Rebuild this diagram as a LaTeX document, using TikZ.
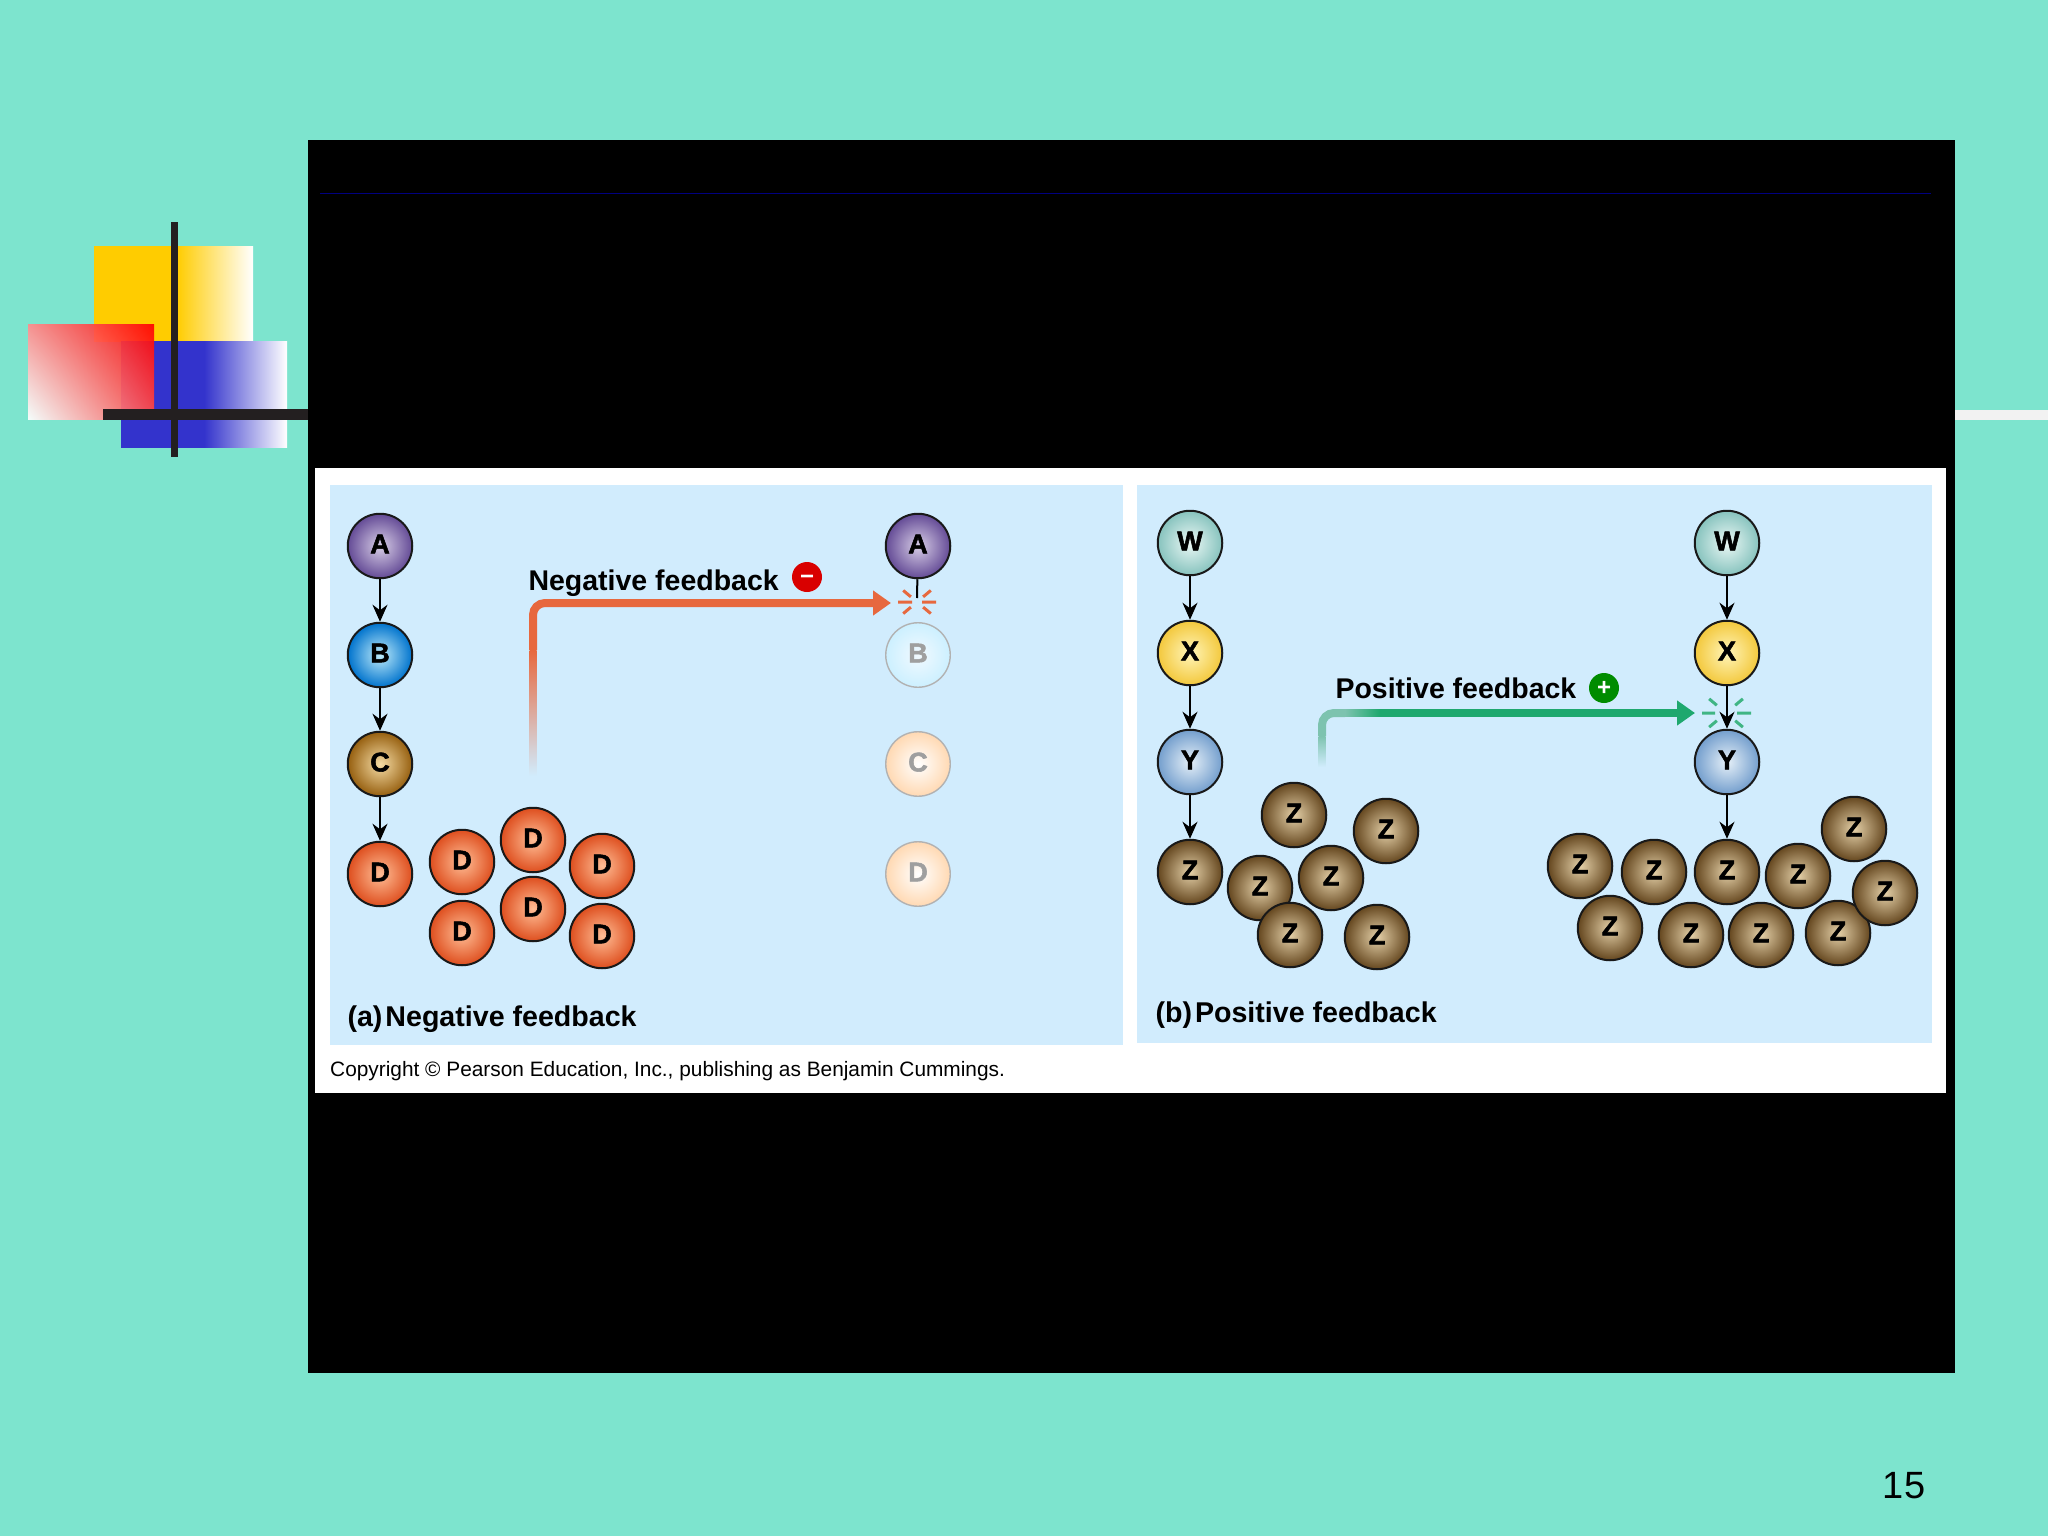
\documentclass[tikz,border=0pt]{standalone}
\usepackage{fontspec}
\setmainfont{Liberation Sans}
\newfontfamily\cellfont[BoldFeatures={FakeBold=2}]{Liberation Sans}
\usetikzlibrary{arrows.meta,calc,shadings}
\definecolor{slidebg}{RGB}{125,228,206}
\definecolor{panelblue}{RGB}{209,236,253}
\definecolor{barcol}{RGB}{35,31,32}
\definecolor{negcol}{RGB}{231,104,62}
\definecolor{poscol}{RGB}{30,168,110}
\definecolor{poslight}{RGB}{125,195,175}
\definecolor{decoyellow}{RGB}{255,204,0}
\definecolor{decoblue}{RGB}{51,51,204}
\definecolor{inA}{RGB}{215,205,230}\definecolor{outA}{RGB}{100,75,150}
\definecolor{inB}{RGB}{190,235,250}\definecolor{outB}{RGB}{0,115,205}
\definecolor{inC}{RGB}{245,220,165}\definecolor{outC}{RGB}{150,95,15}
\definecolor{inD}{RGB}{255,190,150}\definecolor{outD}{RGB}{222,78,30}
\definecolor{inW}{RGB}{235,248,245}\definecolor{outW}{RGB}{135,195,190}
\definecolor{inX}{RGB}{255,245,185}\definecolor{outX}{RGB}{243,200,60}
\definecolor{inY}{RGB}{230,240,248}\definecolor{outY}{RGB}{115,158,205}
\definecolor{inZ}{RGB}{228,208,168}\definecolor{outZ}{RGB}{100,70,30}
\pgfdeclarehorizontalshading{yellowside}{100bp}{color(0bp)=(decoyellow); color(51bp)=(decoyellow); color(75bp)=(white); color(100bp)=(white)}
\pgfdeclarehorizontalshading{blueside}{100bp}{color(0bp)=(decoblue); color(50bp)=(decoblue); color(75bp)=(white); color(100bp)=(white)}
\begin{document}
\begin{tikzpicture}[
    x=1pt, y=-1pt,
    cell/.style={circle, draw=black!90, line width=2pt, minimum size=64.5pt, inner sep=0pt, text=black, text depth=4pt, font=\fontsize{27}{27}\cellfont\bfseries},
    cellA/.style={cell, inner color=inA, outer color=outA},
    cellB/.style={cell, inner color=inB, outer color=outB},
    cellC/.style={cell, inner color=inC, outer color=outC},
    cellD/.style={cell, inner color=inD, outer color=outD},
    cellW/.style={cell, inner color=inW, outer color=outW},
    cellX/.style={cell, inner color=inX, outer color=outX},
    cellY/.style={cell, inner color=inY, outer color=outY},
    cellZ/.style={cell, inner color=inZ, outer color=outZ},
    ghost/.style={cell, draw=gray!60, line width=1.4pt, text=gray!75},
    ghostB/.style={ghost, inner color=white!70!panelblue, outer color=blue!30!cyan!20!white},
    ghostC/.style={ghost, inner color=white, outer color=orange!30!white},
    flow/.style={-{Stealth[length=17pt,width=15pt]}, line width=2pt, black},
    stub/.style={line width=2pt, black},
    fbneg/.style={-{Triangle[length=18pt,width=24pt]}, line width=8pt, negcol, rounded corners=12pt},
    fbpos/.style={-{Triangle[length=18pt,width=24pt]}, line width=8pt, poscol},
    fbposlight/.style={line width=8pt, poslight, rounded corners=12pt},
    spark/.style={line width=3pt},
    sign/.style={circle, minimum size=30pt, inner sep=0pt, text=white, text height=15pt, text depth=0pt, font=\fontsize{24}{24}\selectfont\bfseries},
    title/.style={anchor=west, text=black, font=\fontsize{28.5}{30}\selectfont\bfseries}
]

% Slide background
\fill[slidebg] (0,0) rectangle (2048,1536);

% Corner decoration
\shade[shading=yellowside] (94,246) rectangle (253,341);
\shade[shading=blueside] (121,341) rectangle (287,447);
\shade[lower left=white, upper right=red, upper left=red!45!white, lower right=red!70!white, opacity=0.92] (28,324) rectangle (154,419);
\fill[barcol] (171,222) rectangle (178,457);
\fill[barcol] (103,409) rectangle (308,420);
\fill[white!90!gray] (1955,410) rectangle (2048,420);

% Black frame and picture panels
\fill[black] (308,140) rectangle (1955,1373);
\draw[blue!50!black, line width=1pt] (320,193) -- (1931,193);
\fill[white] (315,468) rectangle (1946,1093);
\fill[panelblue] (330,485) rectangle (1123,1045);
\fill[panelblue] (1137,485) rectangle (1932,1043);

% Negative side, first chain
\node[cellA] (a1) at (380,546) {A};
\node[cellB] (b1) at (380,655) {B};
\node[cellC] (c1) at (380,764) {C};
\node[cellD] (d1) at (380,874) {D};
\draw[flow] (a1) -- (b1);
\draw[flow] (b1) -- (c1);
\draw[flow] (c1) -- (d1);

% D pile
\node[cellD] (d2) at (462,862) {D};
\node[cellD] (d3) at (533,840) {D};
\node[cellD] (d4) at (602,866) {D};
\node[cellD] (d5) at (533,909) {D};
\node[cellD] (d6) at (462,933) {D};
\node[cellD] (d7) at (602,936) {D};

% Negative side, blocked chain
\node[cellA] (a2) at (918,546) {A};
\node[ghostB] (b2) at (918,655) {B};
\node[ghostC] (c2) at (918,764) {C};
\node[ghostC] (d8) at (918,874) {D};
\coordinate (cutneg) at (917,602);
\coordinate (stubend) at (917,598);
\draw[stub] (a2) -- (stubend);
\draw[spark, negcol] (cutneg) ++(0:5) -- ++(0:14) (cutneg) ++(180:5) -- ++(180:14)
    (cutneg) ++(40:8) -- ++(40:10) (cutneg) ++(140:8) -- ++(140:10)
    (cutneg) ++(220:8) -- ++(220:10) (cutneg) ++(320:8) -- ++(320:10);

% Negative feedback arrow
\coordinate (negfoot) at (533,776);
\coordinate (negknee) at (533,650);
\coordinate (negtip) at (891,603);
\shade[bottom color=panelblue, top color=negcol] ($(negfoot)+(-3.5,0)$) rectangle ($(negknee)+(3.5,0)$);
\draw[fbneg] (negknee) |- (negtip);
\node[title] (negtext) at (525,583) {Negative feedback};
\node[sign, fill=red!85!black] (minus) at (807,577) {−};

% Positive side, first chain
\node[cellW] (w1) at (1190,543) {W};
\node[cellX] (x1) at (1190,653) {X};
\node[cellY] (y1) at (1190,762) {Y};
\node[cellZ] (z1) at (1190,872) {Z};
\draw[flow] (w1) -- (x1);
\draw[flow] (x1) -- (y1);
\draw[flow] (y1) -- (z1);

% Small Z pile
\node[cellZ] (z2) at (1294,815) {Z};
\node[cellZ] (z3) at (1386,831) {Z};
\node[cellZ] (z4) at (1260,888) {Z};
\node[cellZ] (z5) at (1331,878) {Z};
\node[cellZ] (z6) at (1290,935) {Z};
\node[cellZ] (z7) at (1377,937) {Z};

% Positive side, boosted chain
\node[cellW] (w2) at (1727,543) {W};
\node[cellX] (x2) at (1727,653) {X};
\node[cellY] (y2) at (1727,762) {Y};
\node[cellZ] (z8) at (1727,872) {Z};
\coordinate (cutpos) at (1726,713);
\draw[flow] (w2) -- (x2);
\draw[spark, poscol!85!white] (cutpos) ++(0:11) -- ++(0:14) (cutpos) ++(180:11) -- ++(180:13)
    (cutpos) ++(40:12) -- ++(40:10) (cutpos) ++(140:12) -- ++(140:10)
    (cutpos) ++(220:12) -- ++(220:10) (cutpos) ++(320:12) -- ++(320:10);
\draw[flow] (x2) -- (y2);
\draw[flow] (y2) -- (z8);

% Large Z pile
\node[cellZ] (z9) at (1580,866) {Z};
\node[cellZ] (z10) at (1654,872) {Z};
\node[cellZ] (z11) at (1798,876) {Z};
\node[cellZ] (z12) at (1854,829) {Z};
\node[cellZ] (z13) at (1610,928) {Z};
\node[cellZ] (z14) at (1691,935) {Z};
\node[cellZ] (z15) at (1761,935) {Z};
\node[cellZ] (z16) at (1838,933) {Z};
\node[cellZ] (z17) at (1885,893) {Z};

% Positive feedback arrow
\coordinate (posfoot) at (1322,767);
\coordinate (posknee) at (1322,736);
\coordinate (posbend) at (1345,713);
\coordinate (posmid) at (1380,713);
\coordinate (postip) at (1695,713);
\shade[bottom color=panelblue, top color=poslight] ($(posfoot)+(-3.5,0)$) rectangle ($(posknee)+(3.5,0)$);
\draw[fbposlight] (posknee) |- (posbend);
\shade[left color=poslight, right color=poscol] ($(posbend)+(0,-3.5)$) rectangle ($(posmid)+(0,3.5)$);
\draw[fbpos] (posmid) -- (postip);
\node[title] (postext) at (1332,688) {Positive feedback};
\node[sign, fill=green!55!black] (plus) at (1604,688) {+};

% Captions
\node[title, font=\fontsize{28.6}{30}\selectfont\bfseries] (capa) at (344,1019) {(a)\hspace{3pt}Negative feedback};
\node[title, font=\fontsize{28.6}{30}\selectfont\bfseries] (capb) at (1152,1015) {(b)\hspace{3pt}Positive feedback};
\node[anchor=west, inner sep=0pt, font=\fontsize{20.85}{22}\selectfont] (copy) at (330,1071) {Copyright © Pearson Education, Inc., publishing as Benjamin Cummings.};

% Slide number
\node[font=\fontsize{38}{42}\selectfont] (pagenum) at (1904,1486) {15};

\end{tikzpicture}
\end{document}
